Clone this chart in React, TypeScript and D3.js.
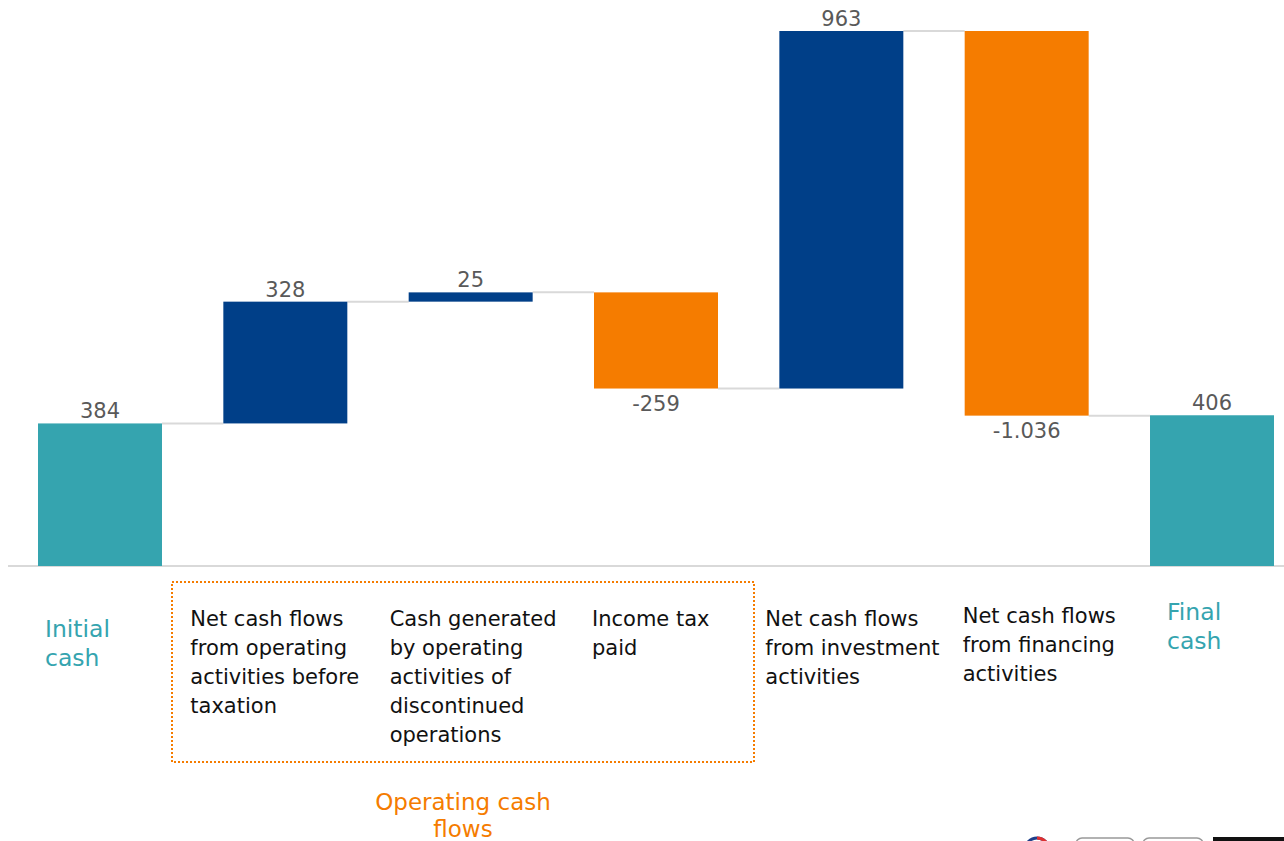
import * as d3 from 'd3';

const categories = [
  'Initial cash',
  'Net cash flows from operating activities before taxation',
  'Cash generated by operating activities of discontinued operations',
  'Income tax paid',
  'Net cash flows from investment activities',
  'Net cash flows from financing activities',
  'Final cash',
];
const categoryLines = [
  ['Initial', 'cash'],
  ['Net cash flows', 'from operating', 'activities before', 'taxation'],
  ['Cash generated', 'by operating', 'activities of', 'discontinued', 'operations'],
  ['Income tax', 'paid'],
  ['Net cash flows', 'from investment', 'activities'],
  ['Net cash flows', 'from financing', 'activities'],
  ['Final', 'cash'],
];
const values = [384, 328, 25, -259, 963, -1036, 406];
const isTotal = [true, false, false, false, false, false, true];
const valueLabels = ['384', '328', '25', '-259', '963', '-1.036', '406'];
const groupLabel = ['Operating cash', 'flows'];

const W = 1284;
const H = 841;
const baseY = 566;
const TEAL = '#35a4af';
const NAVY = '#003f88';
const ORANGE = '#f57c00';
const GREY = '#595959';
const FONT = '"DejaVu Sans", Verdana, sans-serif';

// label placement (offset from band start, first-line centre)
const labelDx = [7, -33, -19, -2, -14, -2, 17];
const labelY = [629, 619, 619, 619, 619, 616, 612];

export default function App() {
  let run = 0;
  const bars = values.map((v, i) => {
    let lo: number, hi: number;
    if (isTotal[i]) {
      lo = 0;
      hi = v;
      run = v;
    } else {
      const start = run;
      run = run + v;
      lo = Math.min(start, run);
      hi = Math.max(start, run);
    }
    return { i, v, lo, hi, end: run };
  });

  const x = d3.scaleBand<string>().domain(categories).range([38, 1274]).paddingInner(0.331).paddingOuter(0);
  const maxV = d3.max(bars, (d) => d.hi) as number;
  const y = d3.scaleLinear().domain([0, maxV]).range([baseY, 31]);
  const bw = x.bandwidth();

  const color = (d: { i: number; v: number }) => (isTotal[d.i] ? TEAL : d.v >= 0 ? NAVY : ORANGE);

  return (
    <svg
      width={W}
      height={H}
      style={{ position: 'absolute', left: 0, top: 0, background: '#fff' }}
      fontFamily={FONT}
    >
      <line x1={8} x2={W} y1={baseY} y2={baseY} stroke="#d9d9d9" strokeWidth={2} />
      {bars.slice(0, -1).map((d, i) => (
        <line
          key={'c' + i}
          x1={(x(categories[i]) as number) + bw}
          x2={x(categories[i + 1]) as number}
          y1={y(d.end)}
          y2={y(d.end)}
          stroke="#d9d9d9"
          strokeWidth={2}
        />
      ))}
      {bars.map((d) => (
        <rect
          key={'b' + d.i}
          x={x(categories[d.i])}
          y={y(d.hi)}
          width={bw}
          height={y(d.lo) - y(d.hi)}
          fill={color(d)}
        />
      ))}
      {bars.map((d) => {
        const cx = (x(categories[d.i]) as number) + bw / 2;
        const neg = !isTotal[d.i] && d.v < 0;
        const ty = neg ? y(d.lo) + 22 : y(d.hi) - 5;
        return (
          <text key={'v' + d.i} x={cx} y={ty} textAnchor="middle" fontSize={21} fill={GREY}>
            {valueLabels[d.i]}
          </text>
        );
      })}
      {categoryLines.map((lines, i) => (
        <text
          key={'l' + i}
          x={(x(categories[i]) as number) + labelDx[i]}
          y={labelY[i]}
          fontSize={isTotal[i] ? 23.5 : 21}
          fill={isTotal[i] ? TEAL : '#111'}
          dominantBaseline="central"
        >
          {lines.map((t, j) => (
            <tspan key={j} x={(x(categories[i]) as number) + labelDx[i]} y={labelY[i] + j * 29}>
              {t}
            </tspan>
          ))}
        </text>
      ))}
      <rect
        x={172}
        y={582}
        width={582}
        height={180}
        fill="none"
        stroke={ORANGE}
        strokeWidth={2}
        strokeDasharray="2 2"
      />
      <text x={463} textAnchor="middle" fontSize={23} fill={ORANGE} dominantBaseline="central">
        {groupLabel.map((t, j) => (
          <tspan key={j} x={463} y={802 + j * 27}>
            {t}
          </tspan>
        ))}
      </text>
      {/* partially visible controls at the bottom edge */}
      <circle cx={1037} cy={850} r={12} fill="#fff" stroke="#1f3f8a" strokeWidth={3} />
      <path d="M1037,838 A12,12 0 0 1 1049,850" fill="none" stroke="#e03030" strokeWidth={3} />
      <rect x={1076} y={838} width={58} height={20} rx={6} fill="#fff" stroke="#999" strokeWidth={1.5} />
      <rect x={1143} y={838} width={60} height={20} rx={6} fill="#fff" stroke="#999" strokeWidth={1.5} />
      <rect x={1213} y={837} width={71} height={10} fill="#111" />
    </svg>
  );
}
